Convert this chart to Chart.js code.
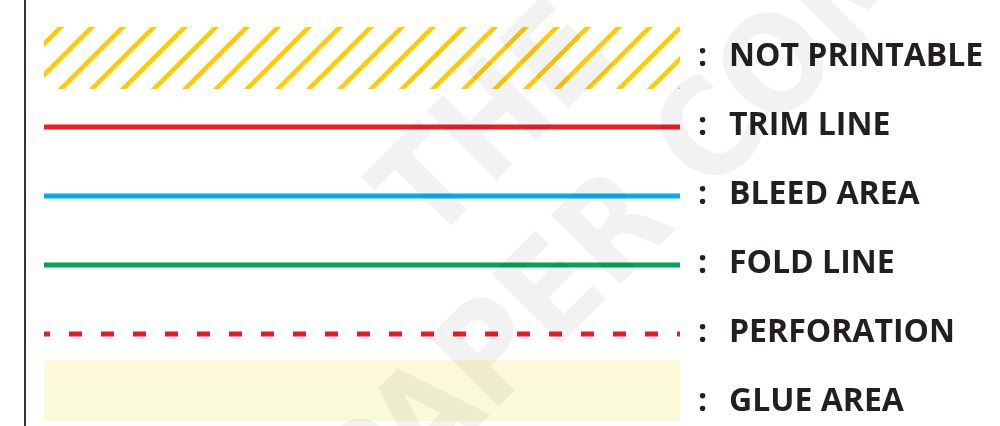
<!DOCTYPE html>
<html>
<head>
<meta charset="utf-8">
<script src="https://cdn.jsdelivr.net/npm/chart.js@4.4.1/dist/chart.umd.min.js"></script>
<style>
  html, body { margin: 0; padding: 0; background: #fff; }
  #wrap { width: 1000px; height: 426px; }
</style>
</head>
<body>
<div id="wrap"><canvas id="legendChart"></canvas></div>
<script>
// legend rows, top to bottom
const labels = ['NOT PRINTABLE', 'TRIM LINE', 'BLEED AREA', 'FOLD LINE', 'PERFORATION', 'GLUE AREA']
const kinds = ['hatch', 'line', 'line', 'line', 'dash', 'area']
const colors = ['#FFCB05', '#ED1C24', '#00AEEF', '#00A651', '#ED1C24', '#FAF9D8']
const watermark = ['THE', 'PAPER COMPANY']

// band heights around the row, in row units
const bands = {
  hatch: [-0.45, 0.45],
  area: [-0.62, 0.26]
}

function makeHatch(color) {
  const size = 31
  const c = document.createElement('canvas')
  c.width = size
  c.height = size
  const g = c.getContext('2d')
  g.strokeStyle = color
  g.lineWidth = 4.6
  g.beginPath()
  g.moveTo(-2, size + 2); g.lineTo(size + 2, -2)
  g.moveTo(-2, 2); g.lineTo(2, -2)
  g.moveTo(size - 2, size + 2); g.lineTo(size + 2, size - 2)
  g.stroke()
  const p = document.getElementById('legendChart').getContext('2d').createPattern(c, 'repeat')
  p.setTransform(new DOMMatrix().translate(26, 0))
  return p
}

const datasets = []
labels.forEach((label, i) => {
  const kind = kinds[i]
  if (kind === 'hatch' || kind === 'area') {
    const [top, bottom] = bands[kind]
    datasets.push({
      label,
      data: [{x: 0, y: i + top}, {x: 1, y: i + top}],
      borderWidth: 0,
      borderColor: 'transparent',
      pointRadius: 0,
      fill: '+1',
      backgroundColor: kind === 'hatch' ? makeHatch(colors[i]) : colors[i]
    })
    datasets.push({
      label: label + ' edge',
      data: [{x: 0, y: i + bottom}, {x: 1, y: i + bottom}],
      borderWidth: 0,
      borderColor: 'transparent',
      pointRadius: 0,
      fill: false
    })
  } else {
    datasets.push({
      label,
      data: [{x: 0, y: i}, {x: 1, y: i}],
      borderColor: colors[i],
      borderWidth: 5,
      borderDash: kind === 'dash' ? [13, 19] : [],
      borderDashOffset: 7,
      pointRadius: 0,
      fill: false
    })
  }
})

const rowMin = -0.8406
const rowMax = 5.333
const labelFont = { family: '"Open Sans", sans-serif', size: 32, weight: 'bold' }
const rowTicks = scale => { scale.ticks = labels.map((_, i) => ({ value: i })) }
// fixed widths, and no extra room for the first/last label
const fixWidth = w => scale => {
  scale.width = w
  scale.paddingTop = 0
  scale.paddingBottom = 0
}

const watermarkPlugin = {
  id: 'watermark',
  afterDatasetsDraw(chart) {
    const ctx = chart.ctx
    const origins = [[430, 247], [370, 535]]
    ctx.save()
    ctx.fillStyle = 'rgba(0,0,0,0.05)'
    ctx.font = 'bold 135px "DejaVu Sans Condensed", "DejaVu Sans"'
    ctx.textBaseline = 'alphabetic'
    watermark.forEach((text, i) => {
      ctx.save()
      ctx.translate(origins[i][0], origins[i][1])
      ctx.rotate(-Math.PI / 4)
      ctx.fillText(text, 0, 0)
      ctx.restore()
    })
    ctx.restore()
  }
}

new Chart(document.getElementById('legendChart'), {
  type: 'line',
  data: { datasets },
  options: {
    responsive: true,
    maintainAspectRatio: false,
    animation: false,
    layout: { padding: 0 },
    plugins: {
      legend: { display: false },
      tooltip: { enabled: false }
    },
    scales: {
      x: { type: 'linear', min: -0.0299, max: 1, display: false },
      y: {
        type: 'linear', position: 'left', reverse: true, min: rowMin, max: rowMax,
        afterFit: fixWidth(25),
        afterBuildTicks: rowTicks,
        ticks: { display: false },
        grid: { display: false, drawTicks: false },
        border: { display: true, color: '#333333', width: 2 }
      },
      yColon: {
        type: 'linear', position: 'right', reverse: true, min: rowMin, max: rowMax, weight: 0,
        afterFit: fixWidth(49),
        afterBuildTicks: rowTicks,
        ticks: { padding: 18, labelOffset: -1, color: '#231F20', font: labelFont, callback: () => ':' },
        grid: { display: false, drawTicks: false },
        border: { display: false }
      },
      yName: {
        type: 'linear', position: 'right', reverse: true, min: rowMin, max: rowMax, weight: 1,
        afterFit: fixWidth(271),
        afterBuildTicks: rowTicks,
        ticks: { padding: 0, labelOffset: -1, color: '#231F20', font: labelFont, callback: v => labels[v] },
        grid: { display: false, drawTicks: false },
        border: { display: false }
      }
    }
  },
  plugins: [watermarkPlugin]
})
</script>
</body>
</html>
